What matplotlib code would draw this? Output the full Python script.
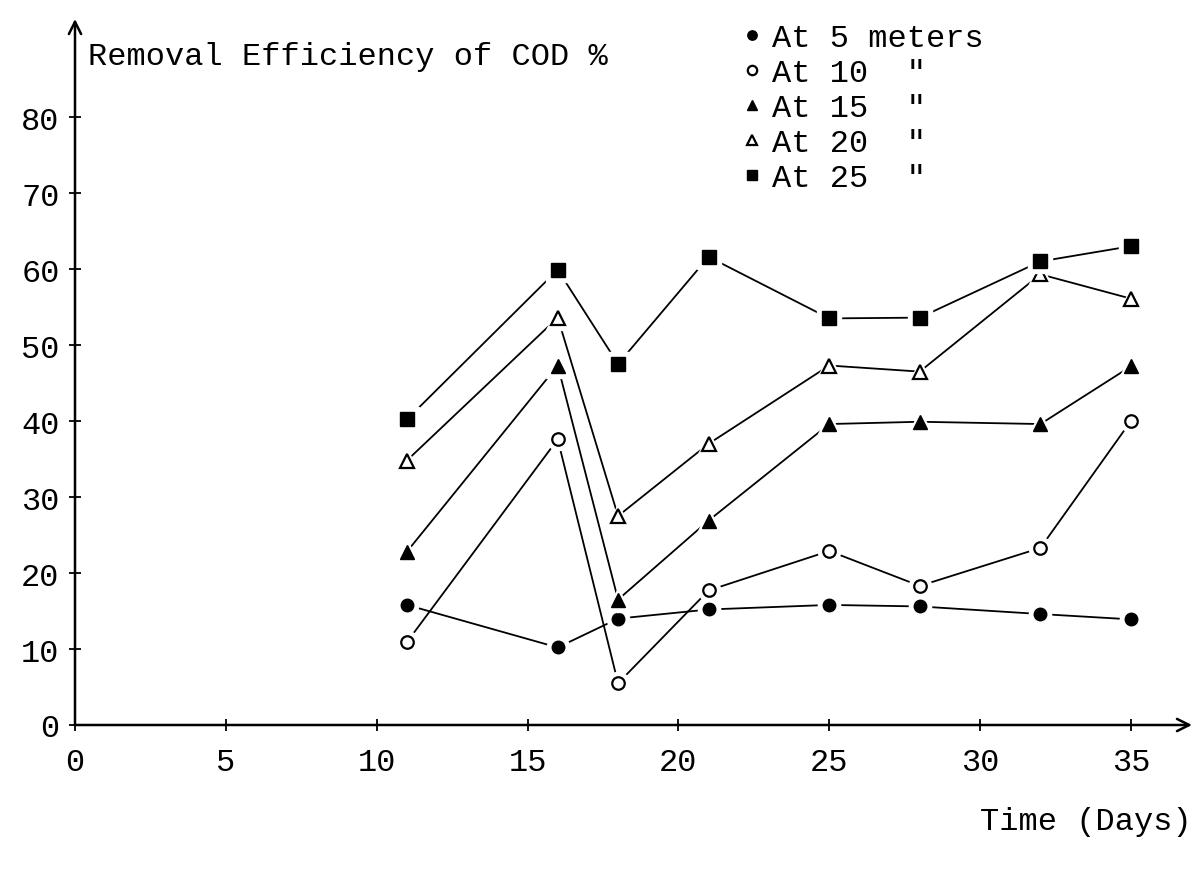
import matplotlib
matplotlib.use("Agg")
import matplotlib.pyplot as plt
from matplotlib.lines import Line2D

# ---- data ----
days = [11, 16, 18, 21, 25, 28, 32, 35]
at5 = [15.8, 10.2, 14.0, 15.2, 15.8, 15.6, 14.6, 13.9]
at10 = [10.9, 37.6, 5.5, 17.7, 22.9, 18.3, 23.3, 40.0]
at15 = [22.8, 47.3, 16.5, 26.9, 39.6, 39.9, 39.6, 47.2]
at20 = [34.8, 53.6, 27.5, 37.0, 47.3, 46.5, 59.3, 56.1]
at25 = [40.2, 59.9, 47.5, 61.6, 53.5, 53.6, 61.0, 63.0]
series_labels = ['At 5 meters', 'At 10  "', 'At 15  "', 'At 20  "', 'At 25  "']
xticks = [0, 5, 10, 15, 20, 25, 30, 35]
yticks = [0, 10, 20, 30, 40, 50, 60, 70, 80]
title_text = "Removal Efficiency of COD %"
xlabel_text = "Time (Days)"

FONT = "Liberation Mono"
FS = 23

W, H = 1199, 870
fig = plt.figure(figsize=(W / 100, H / 100), dpi=100)
ax = fig.add_axes([75 / W, (H - 726) / H, (1192 - 75) / W, (726 - 20) / H])
ax.set_xlim(0, (1192 - 75) / 30.17)
ax.set_ylim(0, (726 - 20) / 7.6)

for s in ax.spines.values():
    s.set_visible(False)

# axes with arrows
ax.annotate('', xy=(1, 0), xytext=(0, 0), xycoords='axes fraction',
            arrowprops=dict(arrowstyle='->', lw=1.8, color='black',
                            shrinkA=0, shrinkB=0, mutation_scale=22))
ax.annotate('', xy=(0, 1), xytext=(0, 0), xycoords='axes fraction',
            arrowprops=dict(arrowstyle='->', lw=1.8, color='black',
                            shrinkA=0, shrinkB=0, mutation_scale=22))

ax.set_xticks(xticks)
ax.set_xticklabels([str(v) for v in xticks], fontfamily=FONT, fontsize=FS)
ax.set_yticks(yticks)
ax.set_yticklabels([str(v) for v in yticks], fontfamily=FONT, fontsize=FS)
ax.tick_params(axis='both', direction='inout', length=8, width=1.3, color='black')
ax.tick_params(axis='x', pad=12)
ax.tick_params(axis='y', pad=7)

styles = [
    (at5, dict(marker='o', ms=9, mfc='black', mec='black')),
    (at10, dict(marker='o', ms=9, mfc='white', mec='black', mew=1.6)),
    (at15, dict(marker='^', ms=10, mfc='black', mec='black')),
    (at20, dict(marker='^', ms=10, mfc='white', mec='black', mew=1.6)),
    (at25, dict(marker='s', ms=10, mfc='black', mec='black')),
]

handles = []
for i, (vals, st) in enumerate(styles):
    z = 2 + i * 3
    ax.plot(days, vals, color='black', lw=1.3, zorder=z, clip_on=False)
    ax.plot(days, vals, linestyle='none', marker=st['marker'], ms=st['ms'] + 7,
            mfc='white', mec='white', zorder=z + 1, clip_on=False)
    ax.plot(days, vals, linestyle='none', zorder=z + 2, clip_on=False, **st)
    handles.append(Line2D([], [], linestyle='none', **st))

leg = fig.legend(handles, series_labels, loc='upper left',
                 bbox_to_anchor=(742 / W, 1 - 24 / H), frameon=False,
                 prop={'family': FONT, 'size': FS}, markerscale=0.75,
                 handlelength=0.6, handletextpad=0.35, labelspacing=0.16,
                 borderpad=0, borderaxespad=0)

fig.text(88 / W, 1 - 57 / H, title_text, fontfamily=FONT, fontsize=FS,
         ha='left', va='center')
fig.text(1192 / W, 1 - 822 / H, xlabel_text, fontfamily=FONT, fontsize=FS,
         ha='right', va='center')

fig.savefig("out.png", dpi=100, facecolor='white')
